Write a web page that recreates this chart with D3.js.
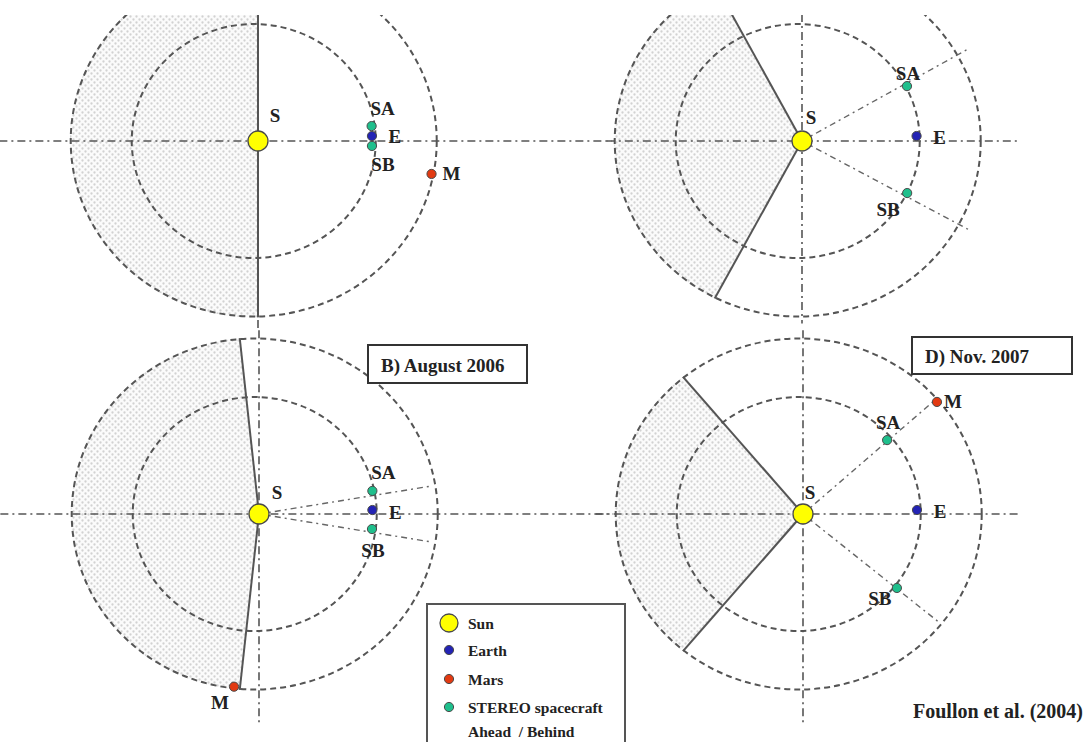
<!DOCTYPE html>
<html><head><meta charset="utf-8">
<script src="https://cdn.jsdelivr.net/npm/d3@7"></script>
<style>
html,body{margin:0;padding:0;background:#fff;}
svg{display:block;}
text{font-family:"Liberation Serif","Times New Roman",serif;fill:#222;}
</style></head>
<body>
<svg id="chart" width="1086" height="742"></svg>
<script>
// ---------- DATA (panel order: top-left A, bottom-left B, top-right C, bottom-right D) ----------
const panelTitles = ["", "B) August 2006", "", "D) Nov. 2007"];
const orbitRadii = [1.0, 1.5];            // AU (Earth, Mars)
const orbitOffset = -0.035;               // AU, orbit centre relative to Sun as drawn
const earthAngle = [2.6, 2.1, 2.6, 2.1];  // degrees
const earthR = [0.935, 0.93, 0.94, 0.935];
const aheadAngle = [7.8, 12, 28.6, 42.5];
const aheadR = [0.94, 0.95, 0.98, 0.935];
const behindAngle = [-2.6, -7.9, -27.3, -39.4];
const behindR = [0.935, 0.935, 0.97, 0.996];
const marsAngle = [-11.2, 262.1, null, 41.1];
const marsR = [1.45, 1.49, null, 1.457];
const shadeFrom = [90, 96, 118, 130];
const shadeTo = [270, 264, 242, 230];
const sightAngles = [[], [9.6, -9.6], [30, -29], [42, -39.7]];
const sightR = [0, 1.44, 1.57, 1.46];
const axisXExtent = [[-2.12, 2.9], [-2.12, 2.9], [-1.6, 1.79], [-1.7, 1.76]];
const axisYExtent = [[1.7, -1.62], [1.57, -1.79], [1.7, -1.56], [1.57, -1.79]];
const legendLabels = ["Sun", "Earth", "Mars", "STEREO spacecraft", "Ahead  / Behind"];
const creditText = "Foullon et al. (2004)";

// ---------- LAYOUT / STYLE ----------
const W = 1086, H = 742;
const pxPerAUx = 122, pxPerAUy = 117;
const panelCentres = [[258, 141], [259, 514], [802, 141], [803, 514]];
const topClip = [true, false, true, false];
const colors = {sun: "#ffff00", earth: "#2323b4", mars: "#e23a12", stereo: "#1fbf8c", stroke: "#4a4a4a"};
const labelOffsets = [
  {S: [17, -26], SA: [11, -18], E: [23, 0], SB: [11, 19], M: [20, 0]},
  {S: [18, -22], SA: [11, -18], E: [23, 2], SB: [1, 21], M: [-14, 16]},
  {S: [9, -24], SA: [1, -13], E: [23, 1], SB: [-19, 16], M: [0, 0]},
  {S: [7, -22], SA: [1, -18], E: [23, 2], SB: [-17, 11], M: [16, 0]}
];
const titleBoxes = [null, [368, 345, 159, 38], null, [912, 337, 160, 37]];

const svg = d3.select("#chart");
const defs = svg.append("defs");
const pat = defs.append("pattern").attr("id", "dots").attr("patternUnits", "userSpaceOnUse")
  .attr("width", 6).attr("height", 6);
pat.append("rect").attr("width", 6).attr("height", 6).attr("fill", "#fbfbfb");
pat.append("circle").attr("cx", 1.5).attr("cy", 1.5).attr("r", 1.15).attr("fill", "#d2d2d2");
pat.append("circle").attr("cx", 4.5).attr("cy", 4.5).attr("r", 1.15).attr("fill", "#d2d2d2");
defs.append("clipPath").attr("id", "topclip").append("rect")
  .attr("x", 0).attr("y", 15).attr("width", W).attr("height", H - 15);

const rad = d => d * Math.PI / 180;
const polar = (a, r) => [r * Math.cos(rad(a)), r * Math.sin(rad(a))];

panelCentres.forEach((c, i) => {
  const x = d3.scaleLinear().domain([0, 1]).range([c[0], c[0] + pxPerAUx]);
  const y = d3.scaleLinear().domain([0, 1]).range([c[1], c[1] - pxPerAUy]);
  const line = d3.line().x(d => x(d[0])).y(d => y(d[1]));
  const g = svg.append("g");
  if (topClip[i]) g.attr("clip-path", "url(#topclip)");

  // clip by outer orbit
  const outer = d3.max(orbitRadii);
  defs.append("clipPath").attr("id", "orb" + i).append("ellipse")
    .attr("cx", x(orbitOffset)).attr("cy", y(0))
    .attr("rx", x(outer) - x(0) + 1).attr("ry", y(0) - y(outer) + 1);

  // shaded wedge
  const wedge = [[0, 0]].concat(d3.range(shadeFrom[i], shadeTo[i] + 0.5, 1).map(a => polar(a, 2.2)));
  g.append("g").attr("clip-path", "url(#orb" + i + ")")
    .append("path").attr("d", line(wedge) + "Z").attr("fill", "url(#dots)");

  // orbits
  g.selectAll(".orbit").data(orbitRadii).enter().append("ellipse")
    .attr("cx", x(orbitOffset)).attr("cy", y(0))
    .attr("rx", r => x(r) - x(0)).attr("ry", r => y(0) - y(r))
    .attr("fill", "none").attr("stroke", "#555").attr("stroke-width", 2)
    .attr("stroke-dasharray", "6,4");

  // dash-dot axes
  g.append("path").attr("d", line([[axisXExtent[i][0], 0], [axisXExtent[i][1], 0]]))
    .attr("stroke", "#555").attr("stroke-width", 1.6).attr("stroke-dasharray", "8,4,2,4").attr("fill", "none");
  g.append("path").attr("d", line([[0, axisYExtent[i][0]], [0, axisYExtent[i][1]]]))
    .attr("stroke", "#555").attr("stroke-width", 1.6).attr("stroke-dasharray", "8,4,2,4").attr("fill", "none");

  // spacecraft lines of sight
  sightAngles[i].forEach(a => {
    g.append("path").attr("d", line([[0, 0], polar(a, sightR[i])]))
      .attr("stroke", "#666").attr("stroke-width", 1.4).attr("stroke-dasharray", "6,4,2,4").attr("fill", "none");
  });

  // solid boundary lines of shaded region
  const sg = g.append("g").attr("clip-path", "url(#orb" + i + ")");
  [shadeFrom[i], shadeTo[i]].forEach(a => {
    sg.append("path").attr("d", line([[0, 0], polar(a, 2.2)]))
      .attr("stroke", "#555").attr("stroke-width", 2).attr("fill", "none");
  });

  // Sun
  g.append("circle").attr("cx", x(0)).attr("cy", y(0)).attr("r", 10)
    .attr("fill", colors.sun).attr("stroke", colors.stroke).attr("stroke-width", 1.3);

  // bodies
  const bodies = [
    {k: "SA", a: aheadAngle[i], r: aheadR[i], col: colors.stereo},
    {k: "E", a: earthAngle[i], r: earthR[i], col: colors.earth},
    {k: "SB", a: behindAngle[i], r: behindR[i], col: colors.stereo}
  ];
  if (marsAngle[i] !== null) bodies.push({k: "M", a: marsAngle[i], r: marsR[i], col: colors.mars});
  bodies.forEach(b => {
    const p = polar(b.a, b.r);
    g.append("circle").attr("cx", x(p[0])).attr("cy", y(p[1])).attr("r", 4.6)
      .attr("fill", b.col).attr("stroke", colors.stroke).attr("stroke-width", 1);
  });

  // labels
  const lbl = (t, px, py) => g.append("text").attr("x", px).attr("y", py)
    .attr("text-anchor", "middle").attr("dominant-baseline", "central")
    .attr("font-size", 19).attr("font-weight", "bold").text(t);
  lbl("S", x(0) + labelOffsets[i].S[0], y(0) + labelOffsets[i].S[1]);
  bodies.forEach(b => {
    const p = polar(b.a, b.r), o = labelOffsets[i][b.k];
    lbl(b.k, x(p[0]) + o[0], y(p[1]) + o[1]);
  });

  // title box
  if (panelTitles[i] && titleBoxes[i]) {
    const tb = titleBoxes[i];
    svg.append("rect").attr("x", tb[0]).attr("y", tb[1]).attr("width", tb[2]).attr("height", tb[3])
      .attr("fill", "#fff").attr("stroke", "#333").attr("stroke-width", 2);
    svg.append("text").attr("x", tb[0] + 13).attr("y", tb[1] + tb[3] / 2 + 1)
      .attr("dominant-baseline", "central").attr("font-size", 19).attr("font-weight", "bold")
      .text(panelTitles[i]);
  }
});

// legend
const lg = svg.append("g");
lg.append("rect").attr("x", 427).attr("y", 604).attr("width", 198).attr("height", 160)
  .attr("fill", "#fff").attr("stroke", "#555").attr("stroke-width", 2);
const legendColors = [colors.sun, colors.earth, colors.mars, colors.stereo];
const legendYs = [623, 650, 679, 707];
legendColors.forEach((col, k) => {
  lg.append("circle").attr("cx", 449).attr("cy", legendYs[k]).attr("r", k === 0 ? 9 : 4.6)
    .attr("fill", col).attr("stroke", colors.stroke).attr("stroke-width", k === 0 ? 1.3 : 1);
});
legendLabels.forEach((t, k) => {
  lg.append("text").attr("x", 468).attr("y", k < 4 ? legendYs[k] : 731)
    .attr("dominant-baseline", "central").attr("font-size", 15.5).attr("font-weight", "bold")
    .attr("xml:space", "preserve").style("white-space", "pre").text(t);
});

// credit
svg.append("text").attr("x", 1083).attr("y", 711).attr("text-anchor", "end")
  .attr("dominant-baseline", "central").attr("font-size", 20).attr("font-weight", "bold")
  .text(creditText);
</script>
</body></html>
